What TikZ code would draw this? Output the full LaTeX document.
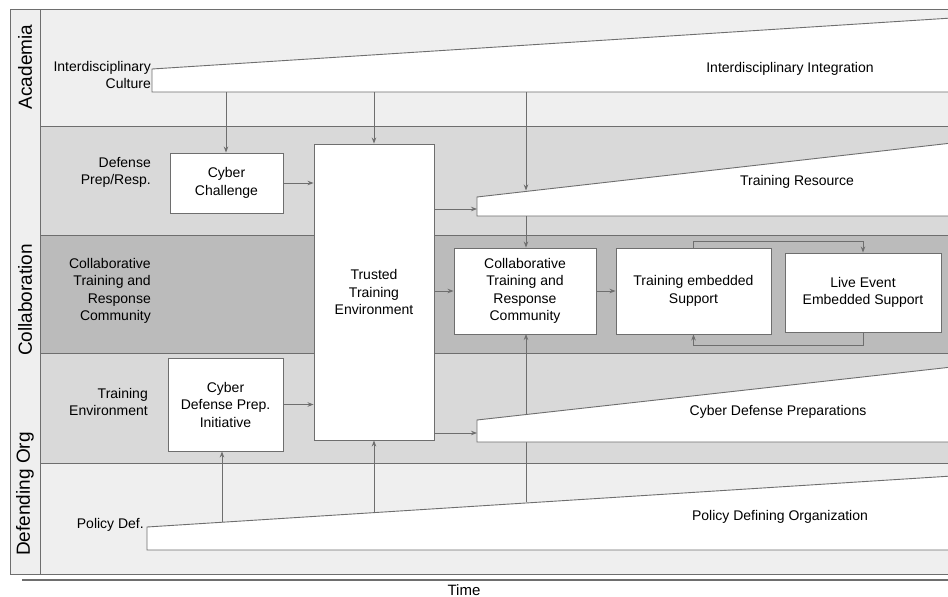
\documentclass[tikz,border=0pt]{standalone}
\usepackage{fontspec}
\setmainfont{Liberation Sans}
\usetikzlibrary{arrows.meta}
\definecolor{lightg}{HTML}{EFEFEF}
\definecolor{midg}{HTML}{D9D9D9}
\definecolor{darkg}{HTML}{BBBBBB}
\definecolor{lineg}{HTML}{6E6E6E}
\tikzset{
  lane/.style={draw=lineg, line width=0.9pt},
  trap/.style={draw=lineg, line width=0.9pt, fill=white},
  box/.style={draw=lineg, line width=0.9pt, fill=white, rectangle, inner sep=0pt, align=center, font=\fontsize{14}{17.5}\selectfont},
  lbl/.style={inner sep=0pt, align=right, anchor=east, font=\fontsize{14}{17.5}\selectfont},
  txt/.style={inner sep=0pt, align=center, font=\fontsize{14}{17.5}\selectfont},
  vlbl/.style={inner sep=0pt, rotate=90, font=\fontsize{19}{22}\selectfont},
  arr/.style={draw=lineg, line width=0.9pt, -{Stealth[length=6pt,width=4.5pt]}},
  ln/.style={draw=lineg, line width=0.9pt}
}
\begin{document}
\begin{tikzpicture}[x=1pt,y=-1pt]
\useasboundingbox (0,0) rectangle (948,597);
\begin{scope}
\clip (0,0) rectangle (948,597);
% lanes
\draw[lane, fill=lightg] (40,9) rectangle (960,126);
\draw[lane, fill=midg] (40,126) rectangle (960,235);
\draw[lane, fill=darkg] (40,235) rectangle (960,353);
\draw[lane, fill=midg] (40,353) rectangle (960,463);
\draw[lane, fill=lightg] (40,463) rectangle (960,574);
\draw[lane, fill=lightg] (10,9) rectangle (40,574);
% row titles
\node[vlbl] (acad) at (25,67) {Academia};
\node[vlbl] (collab) at (25,300) {Collaboration};
\node[vlbl] (deforg) at (25,494) {Defending Org};
% left labels
\node[lbl] (lic) at (151,75) {Interdisciplinary\\Culture};
\node[lbl] (ldp) at (151,172.5) {Defense\\Prep/Resp.};
\node[lbl] (lctr) at (151,291) {Collaborative\\Training and\\Response\\Community};
\node[lbl] (lte) at (148,402) {Training\\Environment};
\node[lbl] (lpd) at (144,525) {Policy Def.};
% coordinates
\coordinate (ii1) at (226,92);
\coordinate (ii2) at (374,92);
\coordinate (ii3) at (526,92);
\coordinate (trTop) at (526,190.5);
\coordinate (trL) at (477,209);
\coordinate (trB) at (526,216);
\coordinate (cdL) at (477,433);
\coordinate (pd1) at (222,522);
\coordinate (pd2) at (374,512.6);
\coordinate (pd3) at (526,502);
% long line behind trapezoid
\coordinate (ctrB) at (526,334);
\draw[arr] (pd3) -- (ctrB);
% trapezoids
\draw[trap] (152,69) -- (952,18) -- (952,92) -- (152,92) -- cycle;
\draw[trap] (477,197) -- (952,143) -- (952,216) -- (477,216) -- cycle;
\draw[trap] (477,420) -- (952,367) -- (952,442) -- (477,442) -- cycle;
\draw[trap] (147,527) -- (952,476) -- (952,550) -- (147,550) -- cycle;
\node[txt] (tii) at (790,69) {Interdisciplinary Integration};
\node[txt] (ttr) at (797,182) {Training Resource};
\node[txt] (tcd) at (778,412) {Cyber Defense Preparations};
\node[txt] (tpd) at (780,517) {Policy Defining Organization};
% boxes
\node[box, minimum width=113pt, minimum height=60pt] (CC) at (226.5,183) {Cyber\\Challenge};
\node[box, minimum width=120pt, minimum height=296pt] (TTE) at (374,292) {Trusted\\Training\\Environment};
\node[box, minimum width=115pt, minimum height=93pt] (CDPI) at (225.5,404.5) {Cyber\\Defense Prep.\\Initiative};
\node[box, minimum width=142pt, minimum height=86pt] (CTR) at (525,291) {Collaborative\\Training and\\Response\\Community};
\node[box, minimum width=155pt, minimum height=86pt] (TES) at (693.5,291) {Training embedded\\Support};
\node[box, minimum width=156pt, minimum height=79pt] (LEES) at (863,292.5) {Live Event\\Embedded Support};
% arrows
\draw[arr] (ii1) -- (ii1 |- CC.north);
\draw[arr] (ii2) -- (TTE.north);
\draw[arr] (ii3) -- (trTop);
\draw[arr] (CC.east) -- (TTE.west |- CC.east);
\draw[arr] (TTE.east |- trL) -- (trL);
\draw[arr] (trB) -- (trB |- CTR.north);
\draw[arr] (TTE.east |- CTR.west) -- (CTR.west);
\draw[arr] (CTR.east) -- (TES.west);
\draw[arr] (TES.north) -- ++(0,-6) -| (LEES.north);
\draw[arr] (LEES.south) -- ++(0,13) -| (TES.south);
\draw[arr] (CDPI.east) -- (TTE.west |- CDPI.east);
\draw[arr] (TTE.east |- cdL) -- (cdL);
\draw[arr] (pd1) -- (pd1 |- CDPI.south);
\draw[arr] (pd2) -- (TTE.south);
% time axis
\coordinate (t0) at (22,580);
\coordinate (t1) at (960,580);
\draw[draw=lineg, line width=1.6pt] (t0) -- (t1);
\node[txt, font=\fontsize{15}{17}\selectfont] (time) at (464,590) {Time};
\end{scope}
\end{tikzpicture}
\end{document}
